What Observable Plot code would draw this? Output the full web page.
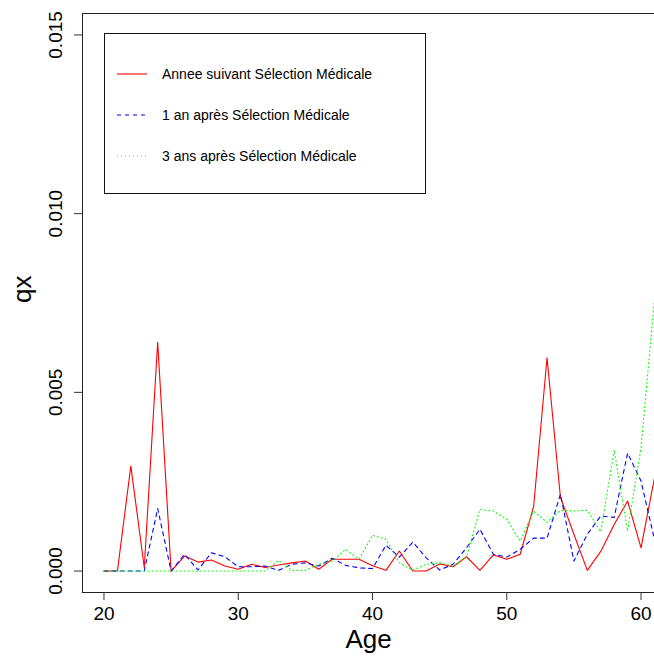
<!DOCTYPE html>
<html>
<head>
<meta charset="utf-8">
<script src="https://cdn.jsdelivr.net/npm/d3@7"></script>
<script src="https://cdn.jsdelivr.net/npm/@observablehq/plot@0.6"></script>
<style>
  html, body { margin: 0; padding: 0; background: #fff; }
  body { width: 654px; height: 660px; overflow: hidden; position: relative; font-family: "Liberation Sans", Arial, sans-serif; }
  #legend { position: absolute; left: 104px; top: 33px; width: 322px; height: 161px; border: 1px solid #111; background: #fff; box-sizing: border-box; }
  .entry { position: absolute; left: 12px; height: 20px; display: flex; align-items: center; font-size: 14px; color: #000; }
  .entry svg { margin-right: 15px; }
</style>
</head>
<body>
<div id="chart"></div>
<div id="legend"></div>
<script>
const ages = d3.range(20, 62);
const seriesNames = ["Annee suivant Sélection Médicale", "1 an après Sélection Médicale", "3 ans après Sélection Médicale"];
const seriesColors = ["#FF0000", "#0000FF", "#00FF00"];
const seriesDash = [null, "4,4", "1,3"];
const qxAnnee = [0, 0, 0.00294, 0.0001, 0.0064, 0, 0.00042, 0.00025, 0.00031, 0.00014,
  0.00005, 0.00019, 0.0001, 0.00017, 0.00023, 0.00028, 0.00005, 0.00033, 0.00033, 0.00033,
  0.00015, 0.00002, 0.00056, 0, 0, 0.0002, 0.00012, 0.0004, 0.00002, 0.00045,
  0.00033, 0.00047, 0.0018, 0.00597, 0.00206, 0.00103, 0.00002, 0.00055, 0.0013, 0.00196,
  0.00065, 0.0026];
const qx1an = [0, 0, 0, 0, 0.00175, 0, 0.00047, 0.00003, 0.00051, 0.0004,
  0.00012, 0.00012, 0.00014, 0.00002, 0.00019, 0.00023, 0.00014, 0.00036, 0.00016, 0.00009,
  0.00007, 0.00072, 0.00039, 0.00081, 0.00037, 0.00003, 0.00019, 0.00065, 0.00117, 0.00047,
  0.00039, 0.00061, 0.00092, 0.00092, 0.00215, 0.00028, 0.00103, 0.00154, 0.0015, 0.0033,
  0.00252, 0.00089];
const qx3ans = [0, 0, 0, 0, 0, 0, 0, 0, 0, 0,
  0, 0, 0, 0.0003, 0.00002, 0.00002, 0.00019, 0.00028, 0.00061, 0.00033,
  0.001, 0.00089, 0.00023, 0.00002, 0.00019, 0.00023, 0.00014, 0.00039, 0.00172, 0.00168,
  0.00145, 0.00084, 0.00168, 0.00136, 0.0017, 0.00168, 0.0017, 0.0011, 0.00338, 0.00112,
  0.00346, 0.0076];
const xTicks = [20, 30, 40, 50, 60];
const yTicks = [0, 0.005, 0.010, 0.015];
const xLabel = "Age";
const yLabel = "qx";

const seriesValues = [qxAnnee, qx1an, qx3ans];
const rows = (vals) => ages.map((a, i) => ({age: a, qx: vals[i]}));

// R-style axis extents (4% padding around [20,60] and [0,0.015]); the window crops the right side
const W = 654, H = 660, mL = 82, mT = 13, mB = 68;
const xFull = [18.4, 61.6], fullRight = 662;
const xDomain = [xFull[0], xFull[0] + (W - mL) * (xFull[1] - xFull[0]) / (fullRight - mL)];
const yDomain = [-0.0006, 0.0156];

const lineMarks = seriesValues.map((vals, k) => Plot.line(rows(vals), {
  x: "age", y: "qx", stroke: seriesColors[k], strokeWidth: 1.1,
  strokeDasharray: seriesDash[k] || undefined, clip: true
}));

const chart = Plot.plot({
  width: W, height: H,
  marginLeft: mL, marginRight: 0, marginTop: mT, marginBottom: mB,
  style: {fontFamily: "'Liberation Sans', Arial, sans-serif", background: "#fff", color: "#000"},
  x: {domain: xDomain, label: null},
  y: {domain: yDomain, label: null},
  marks: [
    ...lineMarks,
    Plot.ruleX([xDomain[0]], {stroke: "#222"}),
    Plot.ruleY(yDomain, {stroke: "#222"}),
    Plot.axisX(xTicks, {tickSize: 8, tickPadding: 6, fontSize: 19, stroke: "#333", tickFormat: d3.format("d"), label: null}),
    Plot.axisY(yTicks, {tickSize: 8, stroke: "#333", tickFormat: () => "", label: null}),
    Plot.text(yTicks, {y: d => d, frameAnchor: "left", rotate: -90, dx: -27, text: d => d3.format(".3f")(d), fontSize: 19, fill: "#000", textAnchor: "middle"}),
    Plot.text([xLabel], {frameAnchor: "bottom", dy: 55, text: d => d, fontSize: 26, fill: "#000"}),
    Plot.text([yLabel], {frameAnchor: "left", dx: -60, rotate: -90, text: d => d, fontSize: 26, fill: "#000"})
  ]
});
document.getElementById("chart").append(chart);

// Legend
const legend = document.getElementById("legend");
const entryTops = [30, 71, 112];
seriesNames.forEach((name, k) => {
  const div = document.createElement("div");
  div.className = "entry";
  div.style.top = entryTops[k] + "px";
  const dash = seriesDash[k] ? `stroke-dasharray="${seriesDash[k]}"` : "";
  div.innerHTML = `<svg width="30" height="4"><line x1="0" x2="30" y1="2" y2="2" stroke="${seriesColors[k]}" stroke-width="1.1" ${dash}/></svg><span>${name}</span>`;
  legend.append(div);
});
</script>
</body>
</html>
